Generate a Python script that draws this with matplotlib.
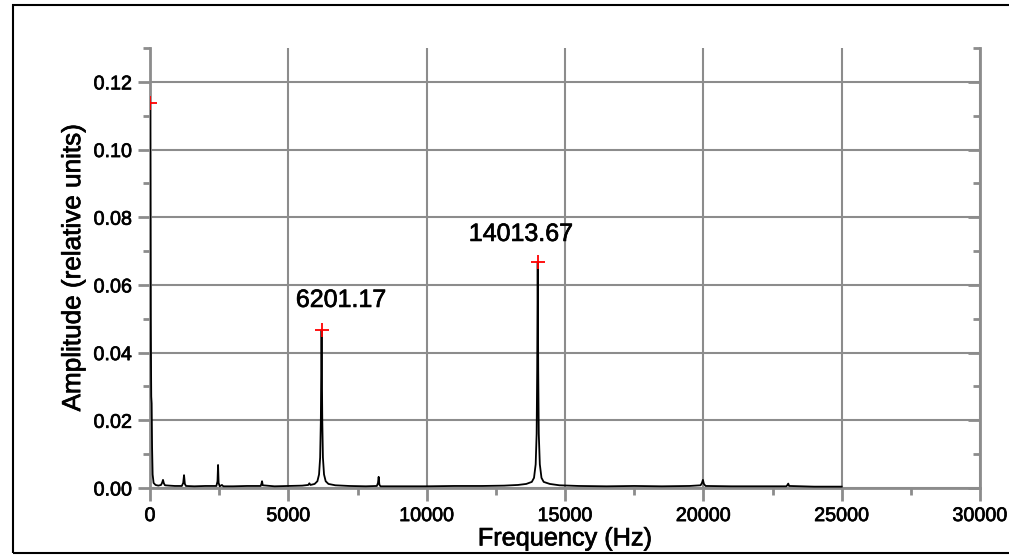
import matplotlib
matplotlib.use("Agg")
import matplotlib.pyplot as plt
import matplotlib.patheffects as pe
from matplotlib.patches import Rectangle
from matplotlib.ticker import MultipleLocator, NullFormatter

plt.rcParams['font.family'] = ['Liberation Sans', 'DejaVu Sans']
# slightly heavier strokes, the reference text looks semi-bold
plt.rcParams['path.effects'] = []
heavy = [pe.withStroke(linewidth=0.5, foreground='black')]

# spectrum points (Hz, relative amplitude)
freq = [0, 10, 25, 45, 60, 75, 95, 130, 200, 300, 400, 440, 470, 500, 540, 700, 900,
        1150, 1200, 1230, 1260, 1300, 1600, 2000, 2400, 2440, 2460, 2480, 2520, 2600, 2650,
        3000, 3500, 4000, 4030, 4050, 4075, 4500, 5000, 5500, 5720, 5760, 5800, 5950, 6050,
        6110, 6150, 6175, 6190, 6201.17, 6212, 6227, 6250, 6290, 6350, 6450, 6700, 7200,
        7800, 8200, 8240, 8265, 8290, 8330, 9000, 10000, 11000, 12000, 12800, 13300, 13600,
        13800, 13880, 13940, 13975, 13995, 14013.67, 14032, 14052, 14090, 14150, 14230,
        14450, 14800, 15500, 16500, 17500, 18500, 19500, 19900, 19950, 19985, 20020, 20080,
        21000, 22000, 23000, 23040, 23070, 23100, 24000, 25000]
amp = [0.1138, 0.09, 0.05, 0.027, 0.025, 0.012, 0.004, 0.0015, 0.0009, 0.0007, 0.0009,
       0.0016, 0.0024, 0.0014, 0.0008, 0.0007, 0.0006,
       0.0006, 0.0015, 0.0038, 0.0012, 0.0006, 0.0005, 0.0006, 0.0006, 0.002, 0.0068,
       0.0015, 0.0005, 0.0009, 0.0005,
       0.0005, 0.0006, 0.0006, 0.0013, 0.002, 0.0008, 0.0005, 0.0006, 0.0007, 0.0009,
       0.0014, 0.0009, 0.0012, 0.002,
       0.004, 0.009, 0.02, 0.035, 0.0467, 0.035, 0.02, 0.009, 0.004, 0.002, 0.0012, 0.0008,
       0.0006,
       0.0005, 0.0006, 0.0015, 0.0033, 0.001, 0.0005, 0.0005, 0.0005, 0.0006, 0.0006, 0.0007,
       0.0009, 0.0012,
       0.0018, 0.003, 0.007, 0.016, 0.035, 0.0668, 0.035, 0.016, 0.007, 0.003, 0.0018,
       0.0012, 0.0008, 0.0006, 0.0005, 0.0006, 0.0005, 0.0006, 0.0008, 0.0015, 0.0024,
       0.0012, 0.0006,
       0.0005, 0.0005, 0.0005, 0.0009, 0.0013, 0.0006, 0.0004, 0.0004]

peak_f = [0, 6201.17, 14013.67]
peak_a = [0.1138, 0.0467, 0.0668]
label_text = ["6201.17", "14013.67"]
label_x = [6903, 13408]
label_y = [0.0535, 0.073]

fig = plt.figure(figsize=(10.09, 5.56), dpi=100)
ax = fig.add_axes([150/1009, 68/556, 830/1009, 440/556])

grey = '#8c8c8c'
ax.plot(freq, amp, color='black', lw=1.3, zorder=6)
ax.plot(peak_f, peak_a, '+', color='red', ms=10, mew=1.3, zorder=7)
for t, x, y in zip(label_text, label_x, label_y):
    ax.text(x, y, t, ha='center', va='baseline', fontsize=18, path_effects=heavy)

ax.set_xlim(0, 30000)
ax.set_ylim(0, 0.13)
ax.xaxis.set_major_locator(MultipleLocator(5000))
ax.xaxis.set_minor_locator(MultipleLocator(2500))
ax.yaxis.set_major_locator(MultipleLocator(0.02))
ax.yaxis.set_minor_locator(MultipleLocator(0.01))
ax.set_yticks(ax.get_yticks())
ax.set_yticklabels(["%.2f" % v for v in ax.get_yticks()])
ax.set_ylim(0, 0.13)
ax.grid(True, which='major', color=grey, lw=1.5)
ax.set_axisbelow(True)

ax.spines['top'].set_visible(False)
ax.spines['right'].set_visible(False)
for s in ['left', 'bottom']:
    ax.spines[s].set_color(grey)
    ax.spines[s].set_linewidth(2)
    ax.spines[s].set_zorder(5)

ax.tick_params(axis='both', which='major', color=grey, width=2, length=9,
               labelsize=14.2, pad=4, direction='out')
ax.tick_params(axis='both', which='minor', color=grey, width=2, length=5, direction='out')
for lab in ax.get_xticklabels() + ax.get_yticklabels():
    lab.set_path_effects(heavy)

# right axis: ticks pointing inwards, no labels
rax = ax.secondary_yaxis('right')
rax.yaxis.set_major_locator(MultipleLocator(0.02))
rax.yaxis.set_minor_locator(MultipleLocator(0.01))
rax.yaxis.set_major_formatter(NullFormatter())
rax.spines['right'].set_color(grey)
rax.spines['right'].set_linewidth(2)
rax.tick_params(which='major', color=grey, width=2, length=9, direction='in')
rax.tick_params(which='minor', color=grey, width=2, length=5, direction='in')

ax.set_xlabel("Frequency (Hz)", fontsize=18.2, labelpad=1, path_effects=heavy)
ax.set_ylabel("Amplitude (relative units)", fontsize=18.8, labelpad=6, path_effects=heavy)

fig.patches.append(Rectangle((12.5/1009, 3/556), 1.1, (552.5-4)/556, transform=fig.transFigure,
                             fill=False, edgecolor='black', lw=1.5))

fig.savefig("out.png", dpi=100)
